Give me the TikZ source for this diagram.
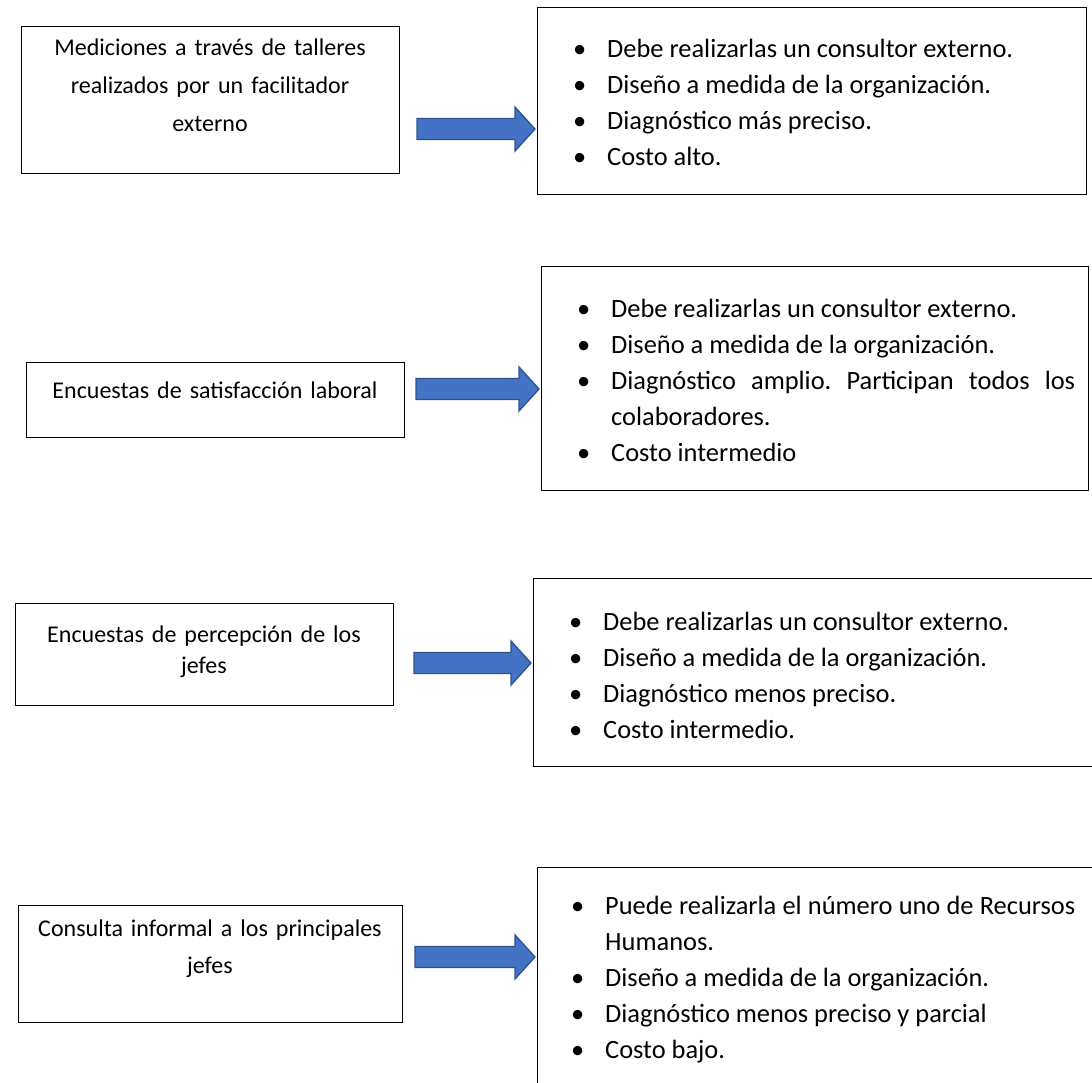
\documentclass[tikz,border=0pt]{standalone}
\usepackage{fontspec}
\setmainfont{Carlito}
\usetikzlibrary{positioning,calc}
\definecolor{azulflecha}{HTML}{4472C4}
\definecolor{bordeflecha}{HTML}{2F528F}
\tikzset{
  caja/.style={draw=black, line width=1.3pt, anchor=north west, inner sep=0pt},
  textoizq/.style={anchor=north, align=center, text width=370pt, inner sep=0pt},
  textoder/.style={anchor=north west, text width=#1, align=justify, inner sep=0pt, font=\fontsize{26.4}{36}\selectfont\frenchspacing},
  bloque/.style={fill=azulflecha, draw=bordeflecha, line width=1.3pt, line join=miter},
}
\newcommand\punto[1]{\par\hangindent=34pt\hangafter=1\noindent\strut\makebox[34pt][l]{\textbullet}#1}
\newcommand\flecha[2]{%
  \path[bloque] let \p1=(#1), \p2=(#1 -| #2.west) in
    (\x1,\y1+10.5pt) -- (\x2-22pt,\y1+10.5pt) -- (\x2-22pt,\y1+22pt) -- (\x2-2pt,\y1)
    -- (\x2-22pt,\y1-22pt) -- (\x2-22pt,\y1-10.5pt) -- (\x1,\y1-10.5pt) -- cycle;}
\begin{document}
\begin{tikzpicture}[x=1pt,y=-1pt]
\useasboundingbox (0,0) rectangle (1092,1082);
\fill[white] (0,0) rectangle (1092,1082);
\node[caja, minimum width=378pt, minimum height=147pt] (l1) at (21,26) {};
\node[caja, minimum width=378pt, minimum height=75pt] (l2) at (26,362) {};
\node[caja, minimum width=378pt, minimum height=102pt] (l3) at (15,603) {};
\node[caja, minimum width=384pt, minimum height=117pt] (l4) at (18,905) {};
\node[textoizq, font=\fontsize{24}{38}\selectfont] (l1txt) at (210,29) {\strut Mediciones a través de talleres\\realizados por un facilitador\\externo};
\node[textoizq, font=\fontsize{24}{38}\selectfont] (l2txt) at (215,372) {\strut Encuestas de satisfacción laboral};
\node[textoizq, font=\fontsize{24}{31}\selectfont] (l3txt) at (204,621) {\strut Encuestas de percepción de los\\jefes};
\node[textoizq, font=\fontsize{24}{37}\selectfont] (l4txt) at (210,910) {\strut Consulta informal a los principales\\jefes};
\node[caja, minimum width=549pt, minimum height=187pt] (r1) at (537,7) {};
\node[caja, minimum width=547pt, minimum height=224pt] (r2) at (541,266) {};
\node[caja, minimum width=570pt, minimum height=188pt] (r3) at (533,578) {};
\node[caja, minimum width=565pt, minimum height=230pt] (r4) at (537,867) {};
\node[textoder=504pt] (r1txt) at (573,21) {\punto{Debe realizarlas un consultor externo.}\punto{Diseño a medida de la organización.}\punto{Diagnóstico más preciso.}\punto{Costo alto.}};
\node[textoder=498pt] (r2txt) at (577,281) {\punto{Debe realizarlas un consultor externo.}\punto{Diseño a medida de la organización.}\punto{Diagnóstico amplio. Participan todos los\linebreak colaboradores.}\punto{Costo intermedio}};
\node[textoder=504pt] (r3txt) at (569,594) {\punto{Debe realizarlas un consultor externo.}\punto{Diseño a medida de la organización.}\punto{Diagnóstico menos preciso.}\punto{Costo intermedio.}};
\node[textoder=504pt] (r4txt) at (571,878) {\punto{Puede realizarla el número uno de Recursos\linebreak Humanos.}\punto{Diseño a medida de la organización.}\punto{Diagnóstico menos preciso y parcial}\punto{Costo bajo.}};
\coordinate (a1) at (417,129);
\coordinate (a2) at (416,389);
\coordinate (a3) at (414,663);
\coordinate (a4) at (415,957);
\foreach \a/\b in {a1/r1,a2/r2,a3/r3,a4/r4} \flecha{\a}{\b};
\end{tikzpicture}
\end{document}
